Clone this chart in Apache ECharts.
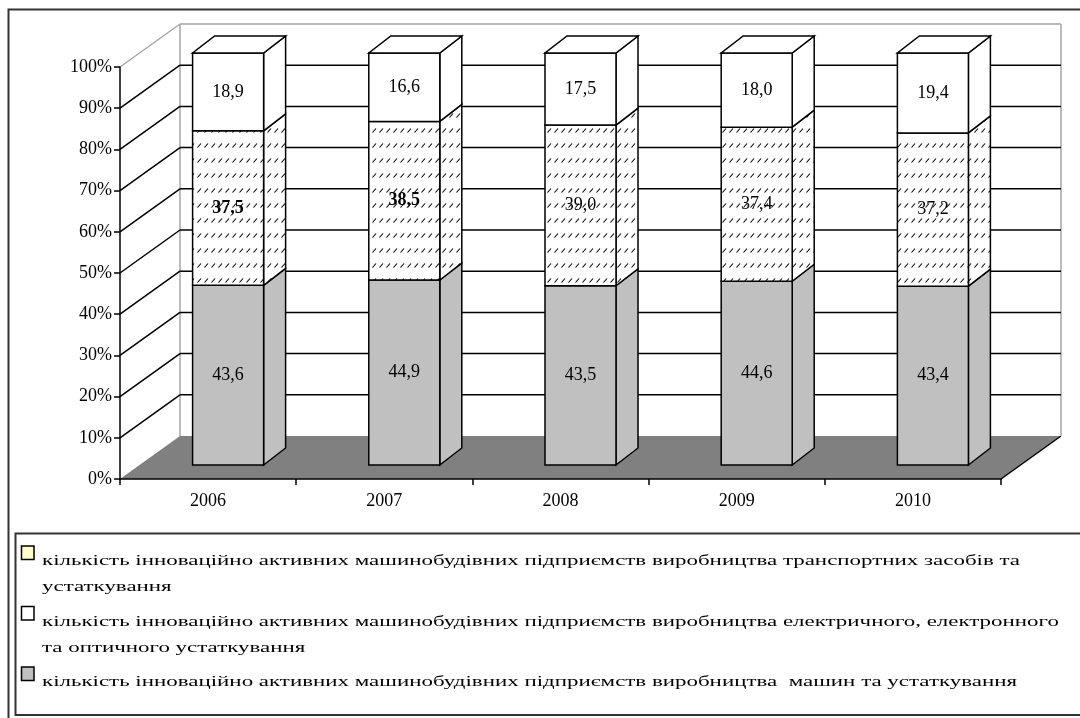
<!DOCTYPE html>
<html>
<head>
<meta charset="utf-8">
<script src="https://cdn.jsdelivr.net/npm/echarts@6/dist/echarts.min.js"></script>
<style>
  html, body { margin: 0; padding: 0; background: #fff; }
  #chart { width: 1080px; height: 718px; }
</style>
</head>
<body>
<div id="chart"></div>
<script>
// Share of innovation-active machine-building enterprises by activity, %
const years = ['2006', '2007', '2008', '2009', '2010'];
const machinery = [43.6, 44.9, 43.5, 44.6, 43.4];   // machines and equipment
const electrical = [37.5, 38.5, 39.0, 37.4, 37.2];  // electrical, electronic and optical equipment
const transport = [18.9, 16.6, 17.5, 18.0, 19.4];   // transport vehicles and equipment
const yTicks = [0, 10, 20, 30, 40, 50, 60, 70, 80, 90, 100];

const nameTransport = 'кількість інноваційно активних машинобудівних підприємств виробництва транспортних засобів та устаткування';
const nameElectrical = 'кількість інноваційно активних машинобудівних підприємств виробництва електричного, електронного та оптичного устаткування';
const nameMachinery = 'кількість інноваційно активних машинобудівних підприємств виробництва  машин та устаткування';

// legend rows, wrapped the way they are printed
const legendRows = [
  ['кількість інноваційно активних машинобудівних підприємств виробництва транспортних засобів та', 'устаткування'],
  ['кількість інноваційно активних машинобудівних підприємств виробництва електричного, електронного', 'та оптичного устаткування'],
  ['кількість інноваційно активних машинобудівних підприємств виробництва  машин та устаткування']
];

// 3D look: offsets in pixels
const WALL = [60, -43];   // depth of floor / side wall
const FRONT = [20, -14];  // where the bar front sits inside the depth
const SIDE = [22, -17];   // bar thickness
const BAR_SHARE = 0.403;  // bar width as share of the category band

// diagonal hatch used for the electrical segment
function makeHatch() {
  const c = document.createElement('canvas');
  c.width = 7; c.height = 15;
  const g = c.getContext('2d');
  g.fillStyle = '#fff';
  g.fillRect(0, 0, 7, 15);
  g.strokeStyle = '#000';
  g.lineWidth = 1.1;
  g.beginPath();
  g.moveTo(1.5, 12.5);
  g.lineTo(5, 8.5);
  g.stroke();
  return c;
}
const hatch = { image: makeHatch(), repeat: 'repeat' };

const fmt = v => v.toFixed(1).replace('.', ',');
const SERIF = '"Liberation Serif", "Times New Roman", serif';

function stackData(base, vals) {
  return vals.map((v, i) => [i, base[i], base[i] + v, v]);
}
const zeros = years.map(() => 0);
const lvl1 = machinery.slice();
const lvl2 = machinery.map((v, i) => v + electrical[i]);

function segmentRenderer(fill, isTop, boldFlags) {
  return function (params, api) {
    const i = api.value(0), lo = api.value(1), hi = api.value(2), v = api.value(3);
    const pLo = api.coord([i, lo]);
    const pHi = api.coord([i, hi]);
    const bw = api.size([1, 0])[0] * BAR_SHARE;
    const x0 = pLo[0] - bw / 2 + FRONT[0];
    const x1 = x0 + bw;
    const yb = pLo[1] + FRONT[1];
    const yt = pHi[1] + FRONT[1];
    const line = { stroke: '#000', lineWidth: 1.5 };
    const children = [
      { type: 'polygon', shape: { points: [[x1, yb], [x1 + SIDE[0], yb + SIDE[1]], [x1 + SIDE[0], yt + SIDE[1]], [x1, yt]] },
        style: Object.assign({ fill: fill }, line) },
      { type: 'rect', shape: { x: x0, y: yt, width: bw, height: yb - yt },
        style: Object.assign({ fill: fill }, line) }
    ];
    if (isTop) {
      children.push({ type: 'polygon', shape: { points: [[x0, yt], [x1, yt], [x1 + SIDE[0], yt + SIDE[1]], [x0 + SIDE[0], yt + SIDE[1]]] },
        style: Object.assign({ fill: '#fff' }, line) });
    }
    children.push({
      type: 'text', x: (x0 + x1) / 2, y: (yt + yb) / 2,
      style: { text: fmt(v), fill: '#000', fontFamily: SERIF, fontSize: 18,
        fontWeight: boldFlags && boldFlags[i] ? 'bold' : 'normal',
        align: 'center', verticalAlign: 'middle' }
    });
    return { type: 'group', children: children };
  };
}

function wallRenderer(params, api) {
  const v = api.value(1);
  const p = api.coord([0, v]);
  const cs = params.coordSys;
  const xl = cs.x, xr = cs.x + cs.width, y = p[1];
  const black = { stroke: '#000', lineWidth: 1.5 };
  const gray = { stroke: '#a6a6a6', lineWidth: 1.5 };
  const ch = [];
  if (v === 0) {
    ch.push({ type: 'polygon', shape: { points: [[xl, y], [xr, y], [xr + WALL[0], y + WALL[1]], [xl + WALL[0], y + WALL[1]]] },
      style: { fill: '#808080' } });
    ch.push({ type: 'line', shape: { x1: xr, y1: y, x2: xr + WALL[0], y2: y + WALL[1] }, style: black });
    const topY = cs.y + WALL[1];
    ch.push({ type: 'line', shape: { x1: xl + WALL[0], y1: topY, x2: xl + WALL[0], y2: y + WALL[1] }, style: gray });
    ch.push({ type: 'line', shape: { x1: xr + WALL[0], y1: topY, x2: xr + WALL[0], y2: y + WALL[1] }, style: gray });
  } else {
    const st = v === 100 ? gray : black;
    ch.push({ type: 'line', shape: { x1: xl, y1: y, x2: xl + WALL[0], y2: y + WALL[1] }, style: st });
    ch.push({ type: 'line', shape: { x1: xl + WALL[0], y1: y + WALL[1], x2: xr + WALL[0], y2: y + WALL[1] }, style: st });
  }
  return { type: 'group', children: ch };
}

// legend drawn as graphic: icon + wrapped text
const LEG_FONT_SIZE = 15.5;
const measure = document.createElement('canvas').getContext('2d');
measure.font = LEG_FONT_SIZE + 'px "Liberation Serif"';
const legScale = 978 / measure.measureText(legendRows[0][0]).width;
const legendFills = ['#ffffcc', '#ffffff', '#c0c0c0'];
const legendGraphics = [];
legendRows.forEach((rows, k) => {
  const cy = 561 + k * 60.5;
  legendGraphics.push({ type: 'rect', shape: { x: 21.5, y: cy - 15, width: 12.5, height: 13.5 },
    style: { fill: legendFills[k], stroke: '#000', lineWidth: 1.5 } });
  rows.forEach((t, r) => {
    legendGraphics.push({ type: 'text', x: 42, y: cy + r * 26, scaleX: legScale, originX: 0,
      style: { text: t, fill: '#000', fontFamily: SERIF, fontSize: LEG_FONT_SIZE, verticalAlign: 'middle', align: 'left' } });
  });
});

const chart = echarts.init(document.getElementById('chart'), null, { renderer: 'canvas' });
chart.setOption({
  backgroundColor: '#fff',
  animation: false,
  grid: { left: 120, right: 79, top: 67, bottom: 239, containLabel: false },
  xAxis: {
    type: 'category', data: years, z: 10,
    axisLine: { lineStyle: { color: '#000', width: 1.5 } },
    axisTick: { show: true, length: 6, alignWithLabel: false, lineStyle: { color: '#000', width: 1.5 } },
    axisLabel: { color: '#000', fontFamily: SERIF, fontSize: 18, margin: 13 },
    splitLine: { show: false }
  },
  yAxis: {
    type: 'value', min: 0, max: 100, interval: 10, z: 10,
    axisLine: { show: true, lineStyle: { color: '#000', width: 1.5 } },
    axisTick: { show: true, length: 6, lineStyle: { color: '#000', width: 1.5 } },
    axisLabel: { color: '#000', fontFamily: SERIF, fontSize: 18, margin: 8, formatter: '{value}%' },
    splitLine: { show: false }
  },
  graphic: [
    { type: 'rect', shape: { x: 8.5, y: 9.5, width: 1090, height: 720 }, style: { fill: 'none', stroke: '#333', lineWidth: 2 }, silent: true },
    { type: 'rect', shape: { x: 15.5, y: 533.5, width: 1090, height: 181.5 }, style: { fill: 'none', stroke: '#333', lineWidth: 2 }, silent: true }
  ].concat(legendGraphics),
  series: [
    { type: 'custom', name: 'walls', renderItem: wallRenderer, encode: { x: 0, y: 1 },
      data: yTicks.map(v => [0, v]), silent: true, z: 1 },
    { type: 'custom', name: nameMachinery, renderItem: segmentRenderer('#c0c0c0', false, null),
      encode: { x: 0, y: [1, 2] }, data: stackData(zeros, machinery), z: 2 },
    { type: 'custom', name: nameElectrical, renderItem: segmentRenderer(hatch, false, [true, true, false, false, false]),
      encode: { x: 0, y: [1, 2] }, data: stackData(lvl1, electrical), z: 2 },
    { type: 'custom', name: nameTransport, renderItem: segmentRenderer('#ffffff', true, null),
      encode: { x: 0, y: [1, 2] }, data: stackData(lvl2, transport), z: 2 }
  ]
});
</script>
</body>
</html>
